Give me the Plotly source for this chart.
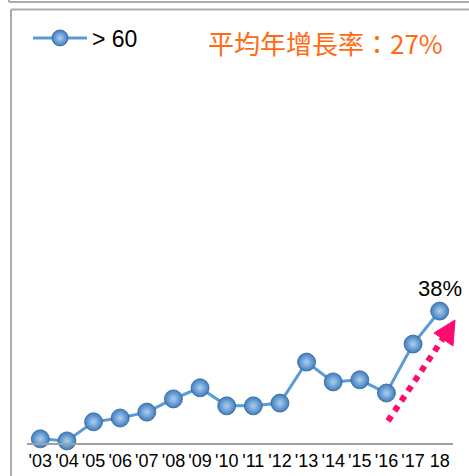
import plotly.graph_objects as go

# ---- data ----
years = ["'03", "'04", "'05", "'06", "'07", "'08", "'09", "'10",
         "'11", "'12", "'13", "'14", "'15", "'16", "'17", "18"]
values = [1.2, 0.6, 6.1, 7.2, 8.9, 12.7, 15.9, 10.7,
          10.7, 11.5, 23.3, 17.6, 18.2, 14.4, 28.5, 38.0]
series_name = "> 60"
title_text = "平均年增長率：27%"
last_label = "38%"

# ---- layout geometry ----
W, H = 469, 476
ML, MR, MT, MB = 27, 16, 60, 33
PW, PH = W - ML - MR, H - MT - MB
YMAX = 110.3

def px_x(px):
    return (px - ML) / PW

def px_y(py):
    return (H - MB - py) / PH

fig = go.Figure()
fig.add_trace(go.Scatter(
    x=years, y=values, name=series_name, mode="lines+markers",
    line=dict(color="#5B9BD5", width=3),
    marker=dict(size=18, color="#3C7DBF",
                gradient=dict(type="radial", color="#AFD0EE"),
                line=dict(color="#2F6498", width=0.8)),
    cliponaxis=False,
))

shapes = [
    # outer frame corner (top)
    dict(type="line", xref="paper", yref="paper", x0=px_x(9), x1=px_x(470),
         y0=px_y(2), y1=px_y(2), line=dict(color="#ABABAB", width=2)),
    dict(type="line", xref="paper", yref="paper", x0=px_x(9), x1=px_x(9),
         y0=px_y(-2), y1=px_y(2), line=dict(color="#ABABAB", width=2)),
    # inner frame
    dict(type="line", xref="paper", yref="paper", x0=px_x(11), x1=px_x(470),
         y0=px_y(9.5), y1=px_y(9.5), line=dict(color="#ABABAB", width=2)),
    dict(type="line", xref="paper", yref="paper", x0=px_x(11), x1=px_x(11),
         y0=px_y(9.5), y1=px_y(480), line=dict(color="#ABABAB", width=2)),
    # dotted arrow
    dict(type="line", xref="paper", yref="paper", x0=px_x(388), x1=px_x(444),
         y0=px_y(421), y1=px_y(337), line=dict(color="#FF0A6E", width=6, dash="dot")),
    dict(type="path", xref="paper", yref="paper",
         path="M %f %f L %f %f L %f %f Z" % (px_x(455), px_y(320), px_x(434), px_y(333),
                                             px_x(453), px_y(346)),
         fillcolor="#FF0A6E", line=dict(color="#FF0A6E", width=1)),
]

fig.update_layout(
    width=W, height=H,
    margin=dict(l=ML, r=MR, t=MT, b=MB, autoexpand=False),
    paper_bgcolor="white", plot_bgcolor="white",
    showlegend=True,
    legend=dict(x=px_x(28), y=px_y(38), xanchor="left", yanchor="middle",
                font=dict(size=23, color="#000000", family="Liberation Sans, Arial"),
                itemwidth=54, bgcolor="rgba(0,0,0,0)"),
    xaxis=dict(type="category", range=[-0.5, 15.5], showgrid=False, zeroline=False,
               showline=True, linecolor="#A0A0A0", linewidth=1.5, ticks="",
               ticklabelstandoff=1, tickangle=0, automargin=False,
               tickfont=dict(size=18, color="#000000", family="Liberation Sans, Arial"),
               fixedrange=True),
    yaxis=dict(range=[0, YMAX], showgrid=False, zeroline=False, showline=False,
               showticklabels=False, ticks="", fixedrange=True, automargin=False),
    shapes=shapes,
    annotations=[
        dict(text=title_text, xref="paper", yref="paper",
             x=px_x(206), y=px_y(42), xanchor="left", yanchor="middle",
             showarrow=False,
             font=dict(size=26, color="#FF6A13",
                       family="Noto Sans CJK TC, Noto Sans CJK SC, sans-serif")),
        dict(text=last_label, x=len(years) - 1, y=values[-1], xref="x", yref="y",
             xanchor="center", yanchor="bottom", yshift=8, showarrow=False,
             font=dict(size=22, color="#000000", family="Liberation Sans, Arial")),
    ],
)

fig.write_html("out.html", config={"displayModeBar": False},
               post_script="document.body.style.margin='0px';document.body.style.overflow='hidden';")
